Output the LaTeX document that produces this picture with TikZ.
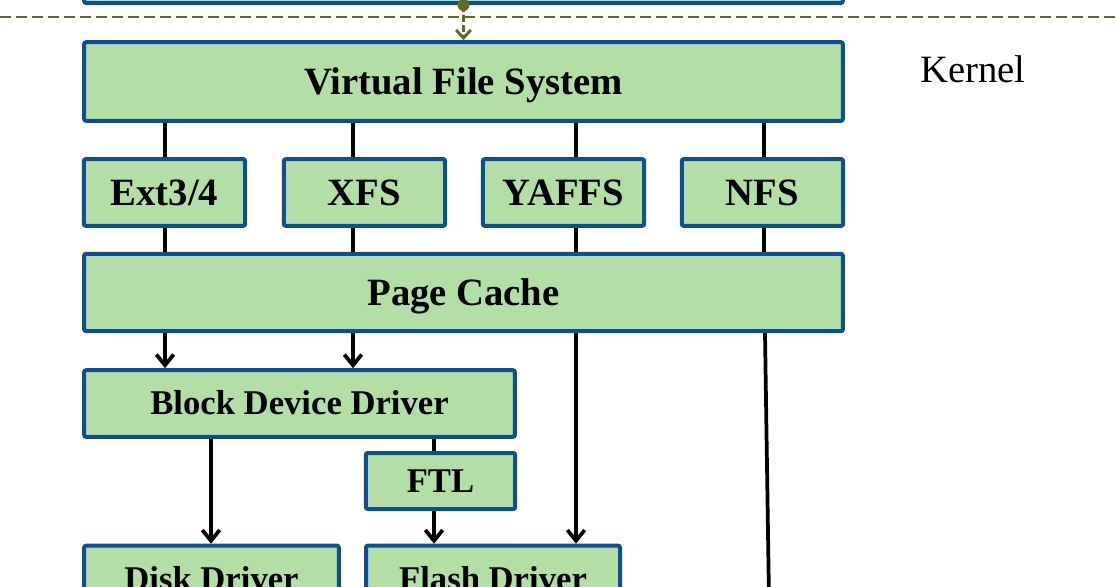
\documentclass[tikz,border=0pt]{standalone}
\usepackage{fontspec}
\setmainfont{Liberation Serif}
\usetikzlibrary{positioning,arrows.meta}
\definecolor{boxgreen}{RGB}{179,222,165}
\definecolor{boxblue}{RGB}{16,79,143}
\definecolor{kolive}{RGB}{94,107,43}

\begin{document}
\begin{tikzpicture}[x=0.75pt, y=-0.75pt,
  layer/.style={draw=boxblue, fill=boxgreen, line width=3pt, rounded corners=1.5pt,
    inner sep=0pt, font=\fontsize{29}{30}\selectfont\bfseries, text height=19pt, text depth=0pt},
  driver/.style={layer, font=\fontsize{26}{28}\selectfont\bfseries, text height=17pt},
  link/.style={line width=2.8pt},
  flow/.style={link, -{Straight Barb[length=8pt,width=13pt]}}]
  \useasboundingbox (0,0) rectangle (1116,586);
  \clip (0,0) rectangle (1116,586);
  % user / kernel border
  \node[layer, minimum width=569pt, minimum height=49.5pt] (top) at (463.5,-30) {};
  \coordinate (sepl) at (0,17);
  \coordinate (sepr) at (1116,17);
  \draw[kolive, line width=2pt, dash pattern=on 8pt off 4pt] (sepl) -- (sepr);
  \node[font=\fontsize{29}{30}\selectfont, text height=19pt, text depth=0pt] (kernel) at (973,70) {Kernel};
  % layers
  \node[layer, minimum width=569pt, minimum height=59pt] (vfs) at (463.5,81.5) {Virtual File System};
  \node[layer, minimum width=121pt, minimum height=50pt] (ext) at (164.5,192.5) {Ext3/4};
  \node[layer, minimum width=121pt, minimum height=50pt] (xfs) at (364.5,192.5) {XFS};
  \node[layer, minimum width=121pt, minimum height=50pt] (yaffs) at (563.5,192.5) {YAFFS};
  \node[layer, minimum width=121pt, minimum height=50pt] (nfs) at (762.5,192.5) {NFS};
  \node[layer, minimum width=569pt, minimum height=58pt] (pc) at (463.5,292.5) {Page Cache};
  \node[driver, minimum width=323pt, minimum height=50pt] (bdd) at (299.5,403.5) {Block Device Driver};
  \node[driver, minimum width=112pt, minimum height=42pt] (ftl) at (440.5,481) {FTL};
  \node[driver, minimum width=191pt, minimum height=50pt] (disk) at (211.5,579) {Disk Driver};
  \node[driver, minimum width=190.5pt, minimum height=50pt] (flash) at (493,579) {Flash Driver};
  % system call into the kernel
  \fill[kolive] (top.south) circle (4.5pt);
  \draw[kolive, line width=2.2pt, dash pattern=on 5pt off 2.5pt,
    -{Straight Barb[length=6pt,width=11pt]}] (top.south) -- (vfs.north);
  % file systems
  \foreach \x/\fs in {165/ext, 353/xfs, 576/yaffs, 764/nfs} {
    \draw[link] (\x,0 |- vfs.south) -- (\x,0 |- \fs.north);
    \draw[link] (\x,0 |- \fs.south) -- (\x,0 |- pc.north);
  }
  % page cache to drivers
  \foreach \x in {165,353}
    \draw[flow] (\x,0 |- pc.south) -- (\x,0 |- bdd.north);
  \draw[flow] (576,0 |- pc.south) -- (576,0 |- flash.north);
  \coordinate (nfsend) at (769,600);
  \draw[link] (765,0 |- pc.south) -- (nfsend);
  \draw[flow] (211,0 |- bdd.south) -- (211,0 |- disk.north);
  \draw[link] (434,0 |- bdd.south) -- (434,0 |- ftl.north);
  \draw[flow] (434,0 |- ftl.south) -- (434,0 |- flash.north);
\end{tikzpicture}
\end{document}
